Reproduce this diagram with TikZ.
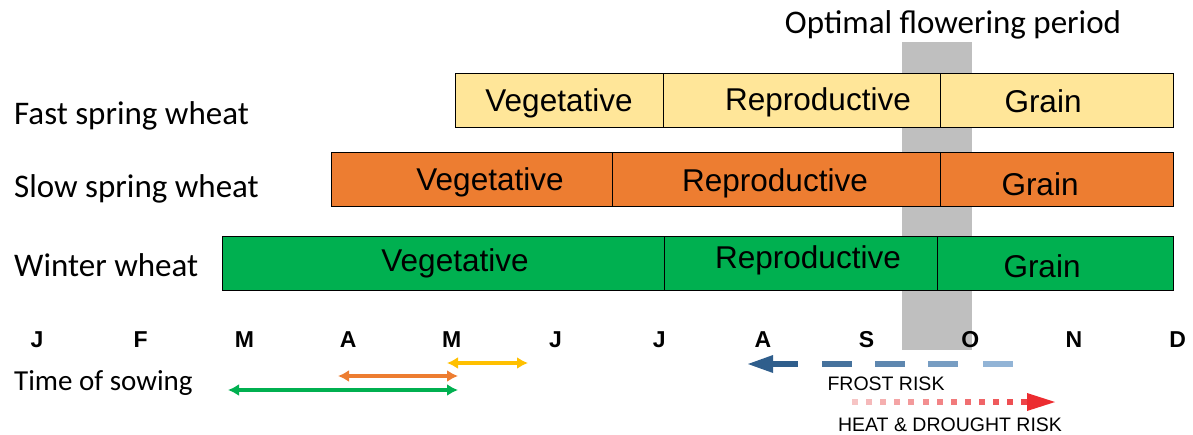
\documentclass[tikz,border=0pt]{standalone}
\usepackage{xcolor}
\usepackage{fontspec}
\setmainfont{Liberation Sans}
\newfontfamily\calibri{Carlito}
\usetikzlibrary{positioning,calc,arrows.meta}

\definecolor{fastfill}{RGB}{255,230,153}
\definecolor{slowfill}{RGB}{237,125,49}
\definecolor{winterfill}{RGB}{0,176,80}
\definecolor{flowergrey}{RGB}{191,191,191}
\definecolor{sowyellow}{RGB}{255,192,0}
\definecolor{frostdark}{RGB}{47,94,140}
\definecolor{frostlight}{RGB}{160,192,224}
\definecolor{heatlight}{RGB}{246,196,196}
\definecolor{heatdark}{RGB}{236,44,48}

\tikzset{
  stagebox/.style={draw=black, line width=0.9pt, minimum height=54pt, inner sep=0pt},
  stagetext/.style={font=\fontsize{31.5}{31.5}\selectfont, inner sep=0pt},
  rowlabel/.style={font=\calibri\fontsize{33}{33}\selectfont, anchor=west, inner sep=0pt},
  monthlabel/.style={font=\bfseries\fontsize{23}{23}\selectfont, inner sep=0pt},
  risklabel/.style={font=\fontsize{19.5}{19.5}\selectfont, inner sep=0pt},
  sowarrow/.style={{Latex[length=11pt,width=12pt]}-{Latex[length=11pt,width=12pt]}, line width=3.6pt},
}

\begin{document}
\begin{tikzpicture}[x=1pt, y=-1pt]
    \useasboundingbox (0,0) rectangle (1193,434);

    % Flowering window
    \node[fill=flowergrey, minimum width=70pt, minimum height=308pt, inner sep=0pt] (flowerband) at (937,196) {};
    \node[font=\calibri\fontsize{33}{33}\selectfont, inner sep=0pt] (flowertitle) at (953,25) {Optimal flowering period};

    % Fast spring wheat
    \node[rowlabel] (fastlabel) at (14,116) {Fast spring wheat};
    \node[stagebox, fill=fastfill, minimum width=208pt] (fastveg) at (559,100) {};
    \node[stagebox, fill=fastfill, minimum width=277pt] (fastrep) at (801.5,100) {};
    \node[stagebox, fill=fastfill, minimum width=233pt] (fastgrain) at (1056.5,100) {};
    \node[stagetext] (fastvegtext) at (559,103) {Vegetative};
    \node[stagetext] (fastreptext) at (818,102) {Reproductive};
    \node[stagetext] (fastgraintext) at (1043,101) {Grain};

    % Slow spring wheat
    \node[rowlabel] (slowlabel) at (14,189) {Slow spring wheat};
    \node[stagebox, fill=slowfill, minimum width=281pt] (slowveg) at (471.5,179.5) {};
    \node[stagebox, fill=slowfill, minimum width=328pt] (slowrep) at (776,179.5) {};
    \node[stagebox, fill=slowfill, minimum width=233pt] (slowgrain) at (1056.5,179.5) {};
    \node[stagetext] (slowvegtext) at (490,182) {Vegetative};
    \node[stagetext] (slowreptext) at (775,183) {Reproductive};
    \node[stagetext] (slowgraintext) at (1040,184) {Grain};

    % Winter wheat
    \node[rowlabel] (winterlabel) at (14,265) {Winter wheat};
    \node[stagebox, fill=winterfill, minimum width=442pt] (winterveg) at (443,263) {};
    \node[stagebox, fill=winterfill, minimum width=273pt] (winterrep) at (800.5,263) {};
    \node[stagebox, fill=winterfill, minimum width=236pt] (wintergrain) at (1055,263) {};
    \node[stagetext] (wintervegtext) at (455,263) {Vegetative};
    \node[stagetext] (winterreptext) at (808,260) {Reproductive};
    \node[stagetext] (wintergraintext) at (1042,266) {Grain};

    % Months
    \foreach \m [count=\i from 0] in {J,F,M,A,M,J,J,A,S,O,N,D}
        \node[monthlabel] (month\i) at ({37+103.7*\i},340) {\m};

    % Sowing windows
    \node[font=\calibri\fontsize{29}{29}\selectfont, anchor=west, inner sep=0pt] (sowlabel) at (14,383) {Time of sowing};
    \coordinate (fastsowA) at (447,363);
    \coordinate (fastsowB) at (528,363);
    \coordinate (slowsowA) at (338,376);
    \coordinate (slowsowB) at (458,376);
    \coordinate (wintersowA) at (228,390);
    \coordinate (wintersowB) at (458,390);
    \draw[sowarrow, sowyellow] (fastsowA) -- (fastsowB);
    \draw[sowarrow, slowfill] (slowsowA) -- (slowsowB);
    \draw[sowarrow, winterfill] (wintersowA) -- (wintersowB);

    % Frost risk
    \coordinate (frosttip) at (748,364);
    \fill[frostdark] (frosttip) -- ++(25,-9) -- ++(0,18) -- cycle;
    \draw[frostdark, line width=6pt] (772,364) -- (798,364);
    \foreach \xs/\xe/\p in {822/852/80, 875/905/58, 928/958/36, 983/1013/12}
        \draw[frostdark!\p!frostlight, line width=6pt] (\xs,364) -- (\xe,364);
    \node[risklabel] (frostlabel) at (886,384) {FROST RISK};

    % Heat and drought risk
    \foreach \k in {0,...,12}
        \fill[heatdark!\the\numexpr\k*7\relax!heatlight] ({852+14.1*\k},399) rectangle ++(6,6);
    \coordinate (heattip) at (1055,402);
    \fill[heatdark] (heattip) -- ++(-28,-9) -- ++(0,18) -- cycle;
    \node[risklabel] (heatlabel) at (950,425) {HEAT \& DROUGHT RISK};
\end{tikzpicture}
\end{document}
